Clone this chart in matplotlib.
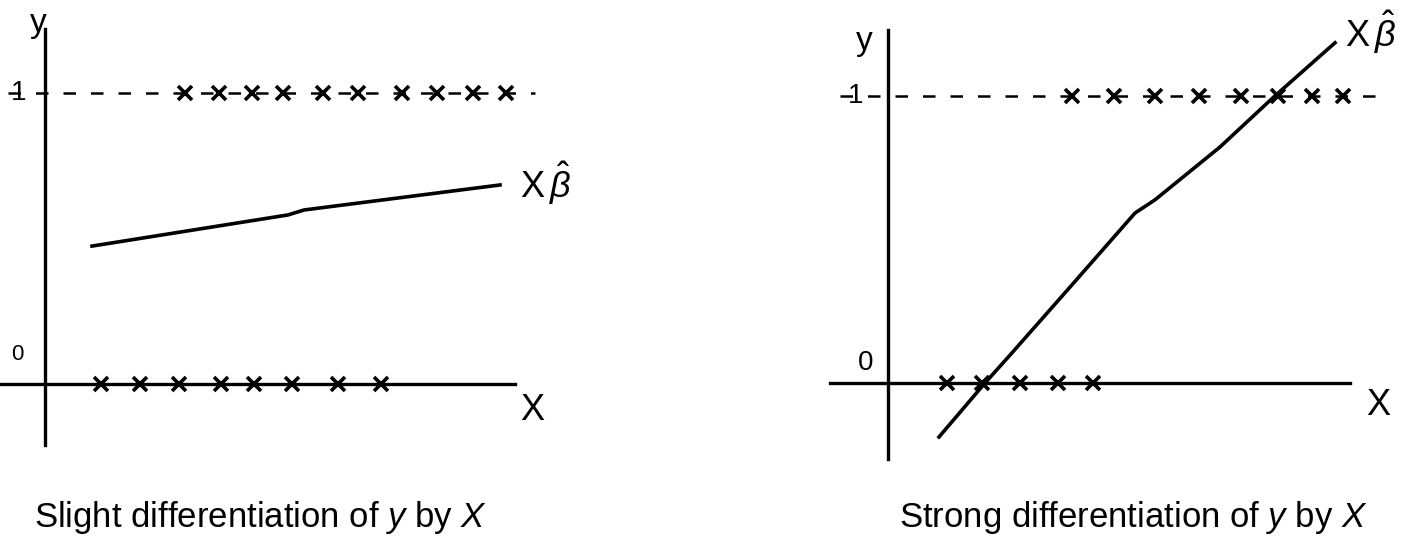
import matplotlib.pyplot as plt
import numpy as np

# left panel: slight differentiation
left_x1 = [1.40, 1.74, 2.07, 2.38, 2.78, 3.13, 3.57, 3.92, 4.28, 4.61]
left_x0 = [0.56, 0.95, 1.34, 1.76, 2.09, 2.47, 2.93, 3.36]
left_fit_x = [0.47, 2.43, 2.59, 4.55]
left_fit_y = [0.474, 0.581, 0.598, 0.684]

# right panel: strong differentiation
right_x1 = [1.84, 2.26, 2.67, 3.11, 3.53, 3.90, 4.24, 4.55]
right_x0 = [0.59, 0.94, 1.32, 1.70, 2.05]
right_fit_x = [0.51, 0.97, 1.24, 1.82, 2.47, 2.67, 3.32, 3.86, 4.47]
right_fit_y = [-0.188, 0, 0.105, 0.334, 0.592, 0.638, 0.822, 0.997, 1.185]

W, H = 1408, 551
plt.rcParams['font.family'] = ['Liberation Sans', 'DejaVu Sans']
plt.rcParams['mathtext.fontset'] = 'custom'
plt.rcParams['mathtext.it'] = 'Liberation Sans:italic'
plt.rcParams['mathtext.rm'] = 'Liberation Sans'
fig = plt.figure(figsize=(W / 100, H / 100), dpi=100)


def panel(px_left, px_right, x_lim, y_lim, x1, x0, fx, fy, xax, yax, dash, labs):
    ax = fig.add_axes([px_left / W, (H - 470) / H, (px_right - px_left) / W, 470 / H])
    ax.set_xlim(*x_lim)
    ax.set_ylim(*y_lim)
    ax.axis('off')
    ax.plot(xax, [0, 0], color='black', lw=2.4)
    ax.plot([0, 0], yax, color='black', lw=2.4)
    ax.plot(dash, [1, 1], color='black', lw=1.8, ls=(0, (5, 6)))
    ax.plot(x1, np.ones(len(x1)), 'x', color='black', ms=10, mew=2.6)
    ax.plot(x0, np.zeros(len(x0)), 'x', color='black', ms=10, mew=2.6)
    ax.plot(fx, fy, color='black', lw=2.6)
    for (tx, ty, s, fs) in labs:
        ax.text(tx, ty, s, fontsize=fs, ha='center', va='center', clip_on=False)
    return ax


panel(0, 560, (-0.45, 5.15), (-0.2955, 1.3196),
      left_x1, left_x0, left_fit_x, left_fit_y,
      [-0.45, 4.70], [-0.21, 1.22], [-0.37, 4.90],
      [(-0.07, 1.24, 'y', 24), (-0.26, 1.0, '1', 20), (-0.28, 0.10, '0', 16),
       (4.87, -0.09, 'X', 26), (5.0, 0.69, r'$\mathrm{X}\,\hat{\beta}$', 26)])

panel(820, 1408, (-0.68, 5.20), (-0.303, 1.334),
      right_x1, right_x0, right_fit_x, right_fit_y,
      [-0.58, 4.62], [-0.265, 1.23], [-0.48, 4.95],
      [(-0.24, 1.19, 'y', 24), (-0.32, 1.0, '1', 20), (-0.22, 0.07, '0', 20),
       (4.90, -0.08, 'X', 26), (4.82, 1.22, r'$\mathrm{X}\,\hat{\beta}$', 26)])

fig.text(261 / W, 1 - 517 / H, r'Slight differentiation of $y$ by $X$', fontsize=25,
         ha='center', va='center')
fig.text(1133 / W, 1 - 517 / H, r'Strong differentiation of $y$ by $X$', fontsize=25,
         ha='center', va='center')

fig.savefig('out.png', dpi=100)
